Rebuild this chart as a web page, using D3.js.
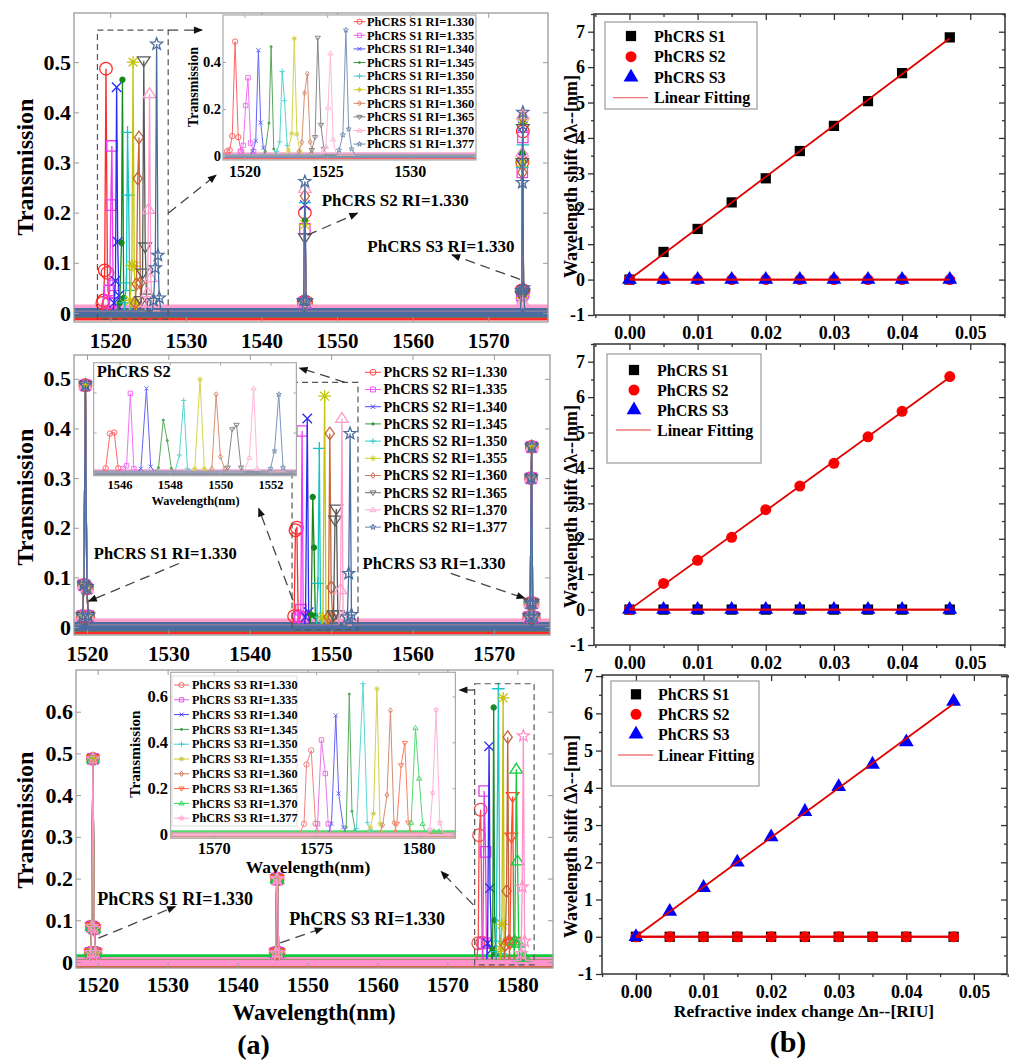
<!DOCTYPE html>
<html>
<head>
<meta charset="utf-8">
<script src="https://cdn.jsdelivr.net/npm/d3@7"></script>
<style>
  body { margin: 0; background: #fff; }
</style>
</head>
<body>
<svg id="chart" width="1024" height="1064"></svg>
<script>
// ---------------- data ----------------
const riLabels = ["1.330", "1.335", "1.340", "1.345", "1.350", "1.355", "1.360", "1.365", "1.370", "1.377"];
const spanEdges = [1500, 1600];   // spectra continue past both ends of every axis
const baseT = 0.004;              // off-resonance transmission
const bandLevels = [-0.006, 0, 0, 0, 0, 0, 0, 0, 0.008, 0.001];

// (a) top : S1 swept, S2 / S3 kept at RI=1.330
const a1S1Peaks = [
  [[1518.8, 0.004], [1518.95, 0.02], [1519.1, 0.025], [1519.26, 0.085], [1519.43, 0.487], [1519.62, 0.08], [1519.8, 0.02], [1519.95, 0.004]],
  [[1519.6, 0.004], [1519.75, 0.02], [1519.92, 0.045], [1520.07, 0.215], [1520.21, 0.333], [1520.37, 0.055], [1520.55, 0.02], [1520.7, 0.004]],
  [[1520.35, 0.004], [1520.5, 0.02], [1520.68, 0.064], [1520.84, 0.45], [1520.98, 0.142], [1521.14, 0.035], [1521.3, 0.004]],
  [[1521.1, 0.004], [1521.25, 0.02], [1521.48, 0.14], [1521.61, 0.465], [1521.77, 0.03], [1521.95, 0.004]],
  [[1521.8, 0.004], [1521.95, 0.02], [1522.13, 0.06], [1522.28, 0.36], [1522.42, 0.235], [1522.58, 0.045], [1522.75, 0.004]],
  [[1522.5, 0.004], [1522.65, 0.025], [1522.86, 0.095], [1523.01, 0.50], [1523.17, 0.093], [1523.35, 0.02], [1523.5, 0.004]],
  [[1523.15, 0.004], [1523.3, 0.02], [1523.47, 0.058], [1523.63, 0.268], [1523.8, 0.35], [1523.97, 0.06], [1524.15, 0.004]],
  [[1523.9, 0.004], [1524.07, 0.025], [1524.27, 0.08], [1524.43, 0.503], [1524.62, 0.132], [1524.8, 0.03], [1524.95, 0.004]],
  [[1524.6, 0.004], [1524.75, 0.02], [1524.92, 0.04], [1525.05, 0.206], [1525.2, 0.437], [1525.36, 0.07], [1525.55, 0.004]],
  [[1525.55, 0.004], [1525.72, 0.025], [1525.95, 0.09], [1526.13, 0.536], [1526.3, 0.115], [1526.48, 0.03], [1526.7, 0.004]]
];
const a1S2Lambda = [1545.42, 1545.58, 1545.74, 1545.9, 1546.06];
const a1S2T = [
  [0.004, 0.022, 0.200, 0.022, 0.004],
  [0.004, 0.020, 0.168, 0.020, 0.004],
  [0.004, 0.020, 0.215, 0.020, 0.004],
  [0.004, 0.022, 0.185, 0.020, 0.004],
  [0.004, 0.020, 0.220, 0.020, 0.004],
  [0.004, 0.020, 0.176, 0.022, 0.004],
  [0.004, 0.020, 0.233, 0.020, 0.004],
  [0.004, 0.020, 0.150, 0.020, 0.004],
  [0.004, 0.020, 0.248, 0.020, 0.004],
  [0.004, 0.025, 0.262, 0.025, 0.004]
];
const a1S3Lambda = [1574.25, 1574.42, 1574.5, 1574.57, 1574.66, 1574.82];
const a1S3T = [
  [0.004, 0.045, 0.30, 0.362, 0.045, 0.004],
  [0.004, 0.035, 0.28, 0.350, 0.040, 0.004],
  [0.004, 0.030, 0.31, 0.372, 0.035, 0.004],
  [0.004, 0.040, 0.32, 0.380, 0.040, 0.004],
  [0.004, 0.045, 0.29, 0.335, 0.045, 0.004],
  [0.004, 0.030, 0.30, 0.385, 0.035, 0.004],
  [0.004, 0.040, 0.28, 0.390, 0.045, 0.004],
  [0.004, 0.035, 0.30, 0.368, 0.040, 0.004],
  [0.004, 0.020, 0.32, 0.395, 0.020, 0.004],
  [0.004, 0.045, 0.26, 0.400, 0.050, 0.004]
];

// (a) middle : S2 swept
const a2S1Fixed = [[1519.3, 0.004], [1519.45, 0.022], [1519.62, 0.085], [1519.8, 0.487], [1519.98, 0.078], [1520.15, 0.022], [1520.3, 0.004]];
const a2S3Fixed = [[1574.2, 0.004], [1574.35, 0.02], [1574.48, 0.048], [1574.58, 0.30], [1574.66, 0.363], [1574.76, 0.048], [1574.9, 0.02], [1575.05, 0.004]];
const a2S2Peaks = [
  [[1545.3, 0.004], [1545.45, 0.022], [1545.62, 0.195], [1545.79, 0.20], [1545.95, 0.022], [1546.1, 0.004]],
  [[1546.0, 0.004], [1546.15, 0.02], [1546.28, 0.035], [1546.43, 0.395], [1546.57, 0.02], [1546.7, 0.004]],
  [[1546.7, 0.004], [1546.85, 0.02], [1547.07, 0.42], [1547.24, 0.03], [1547.4, 0.004]],
  [[1547.4, 0.004], [1547.55, 0.025], [1547.74, 0.262], [1547.9, 0.16], [1548.06, 0.022], [1548.2, 0.004]],
  [[1548.2, 0.004], [1548.38, 0.088], [1548.55, 0.36], [1548.7, 0.02], [1548.85, 0.004]],
  [[1548.85, 0.004], [1548.99, 0.02], [1549.2, 0.465], [1549.37, 0.02], [1549.5, 0.004]],
  [[1549.5, 0.004], [1549.67, 0.02], [1549.84, 0.39], [1550.01, 0.08], [1550.18, 0.02], [1550.3, 0.004]],
  [[1550.15, 0.004], [1550.3, 0.025], [1550.48, 0.216], [1550.65, 0.238], [1550.83, 0.025], [1551.0, 0.004]],
  [[1550.95, 0.004], [1551.16, 0.075], [1551.33, 0.42], [1551.47, 0.02], [1551.6, 0.004]],
  [[1551.9, 0.004], [1552.0, 0.02], [1552.16, 0.108], [1552.33, 0.39], [1552.5, 0.025], [1552.65, 0.004]]
];

// (a) bottom : S3 swept
const a3S1Fixed = [[1518.85, 0.004], [1519.0, 0.022], [1519.15, 0.085], [1519.32, 0.487], [1519.5, 0.08], [1519.68, 0.022], [1519.85, 0.004]];
const a3S2Fixed = [[1545.3, 0.004], [1545.45, 0.022], [1545.6, 0.20], [1545.72, 0.198], [1545.87, 0.022], [1546.0, 0.004]];
const a3S3Peaks = [
  [[1574.2, 0.004], [1574.41, 0.045], [1574.53, 0.304], [1574.76, 0.365], [1574.97, 0.046], [1575.15, 0.004]],
  [[1574.95, 0.004], [1575.07, 0.045], [1575.26, 0.41], [1575.45, 0.264], [1575.59, 0.045], [1575.75, 0.004]],
  [[1575.6, 0.004], [1575.75, 0.045], [1575.96, 0.517], [1576.1, 0.177], [1576.33, 0.03], [1576.45, 0.004]],
  [[1576.35, 0.004], [1576.47, 0.03], [1576.62, 0.61], [1576.75, 0.1], [1576.9, 0.02], [1577.0, 0.004]],
  [[1576.85, 0.004], [1576.97, 0.025], [1577.29, 0.655], [1577.5, 0.05], [1577.65, 0.02], [1577.8, 0.004]],
  [[1577.55, 0.004], [1577.65, 0.03], [1577.8, 0.09], [1577.97, 0.633], [1578.12, 0.045], [1578.25, 0.004]],
  [[1578.1, 0.004], [1578.25, 0.04], [1578.46, 0.17], [1578.63, 0.539], [1578.8, 0.05], [1578.95, 0.004]],
  [[1578.8, 0.004], [1578.94, 0.045], [1579.15, 0.30], [1579.33, 0.397], [1579.5, 0.05], [1579.65, 0.004]],
  [[1579.5, 0.004], [1579.64, 0.05], [1579.85, 0.462], [1580.03, 0.242], [1580.2, 0.045], [1580.35, 0.004], [1580.75, 0.012], [1581.0, 0.012], [1581.2, 0.004]],
  [[1580.45, 0.004], [1580.55, 0.02], [1580.69, 0.18], [1580.86, 0.542], [1581.04, 0.05], [1581.2, 0.004]]
];

// (b) wavelength shift vs refractive index change
const dn = [0, 0.005, 0.01, 0.015, 0.02, 0.025, 0.03, 0.035, 0.04, 0.047];
const shiftS1 = [0, 0.78, 1.43, 2.18, 2.86, 3.63, 4.34, 5.04, 5.83, 6.84];
const shiftS2 = [0, 0.74, 1.39, 2.04, 2.82, 3.49, 4.13, 4.88, 5.60, 6.58];
const shiftS3 = [0, 0.68, 1.32, 2.00, 2.68, 3.36, 4.03, 4.63, 5.23, 6.32];
const noShift = [0, 0, 0, 0, 0, 0, 0, 0, 0, 0];

// ticks
const ticksA12 = [1520, 1530, 1540, 1550, 1560, 1570];
const ticksA3 = [1520, 1530, 1540, 1550, 1560, 1570, 1580];
const ticksT5 = [0, 0.1, 0.2, 0.3, 0.4, 0.5];
const ticksT6 = [0, 0.1, 0.2, 0.3, 0.4, 0.5, 0.6];
const ticksInset1 = [1520, 1525, 1530];
const ticksInset2 = [1546, 1548, 1550, 1552];
const ticksInset3 = [1570, 1575, 1580];
const ticksInsetT1 = [0, 0.2, 0.4];
const ticksInsetT3 = [0, 0.2, 0.4, 0.6];
const ticksDn = [0, 0.01, 0.02, 0.03, 0.04, 0.05];
const ticksDnMinor = [-0.005, 0.005, 0.015, 0.025, 0.035, 0.045, 0.055];
const ticksShift = [-1, 0, 1, 2, 3, 4, 5, 6, 7];
const ticksShiftMinor = [-0.5, 0.5, 1.5, 2.5, 3.5, 4.5, 5.5, 6.5, 7.5];

// ---------------- styles ----------------
const SERIF = "'Liberation Serif','Times New Roman',serif";
const colorsAB = ["#ff2a2a", "#f03cf0", "#2a2af0", "#17871a", "#14c4c4", "#c4c40a", "#c8663a", "#5a5a5a", "#ff9dcb", "#4a6c9e"];
const colorsC = ["#f25050", "#e040e0", "#2a2af0", "#1b8a2a", "#1cc6c6", "#c6be0a", "#c2623e", "#ff4b26", "#12cc3c", "#ff92cc"];
const markerNames = ["circle", "square", "times", "point", "plus", "asterisk", "diamond", "triDown", "triUp", "pentagram"];

// marker shapes, "size" is the half extent in px
const markerTypes = {
  circle: { draw(c, r) { c.moveTo(r, 0); c.arc(0, 0, r, 0, 2 * Math.PI); } },
  square: { draw(c, r) { const s = r * 0.82; c.rect(-s, -s, 2 * s, 2 * s); } },
  times: { draw(c, r) { const s = r * 0.75; c.moveTo(-s, -s); c.lineTo(s, s); c.moveTo(-s, s); c.lineTo(s, -s); } },
  point: { draw(c, r) { const s = r * 0.4; c.moveTo(s, 0); c.arc(0, 0, s, 0, 2 * Math.PI); } },
  plus: { draw(c, r) { c.moveTo(-r, 0); c.lineTo(r, 0); c.moveTo(0, -r); c.lineTo(0, r); } },
  asterisk: { draw(c, r) {
    const s = r * 0.7;
    c.moveTo(-r, 0); c.lineTo(r, 0); c.moveTo(0, -r); c.lineTo(0, r);
    c.moveTo(-s, -s); c.lineTo(s, s); c.moveTo(-s, s); c.lineTo(s, -s);
  } },
  diamond: { draw(c, r) { c.moveTo(0, -r); c.lineTo(r * 0.72, 0); c.lineTo(0, r); c.lineTo(-r * 0.72, 0); c.closePath(); } },
  triDown: { draw(c, r) { c.moveTo(-r, -r * 0.6); c.lineTo(r, -r * 0.6); c.lineTo(0, r * 0.95); c.closePath(); } },
  triUp: { draw(c, r) { c.moveTo(-r, r * 0.6); c.lineTo(r, r * 0.6); c.lineTo(0, -r * 0.95); c.closePath(); } },
  pentagram: { draw(c, r) {
    for (let k = 0; k < 10; k++) {
      const rr = k % 2 ? r * 0.42 : r;
      const a = -Math.PI / 2 + k * Math.PI / 5;
      if (k === 0) c.moveTo(rr * Math.cos(a), rr * Math.sin(a)); else c.lineTo(rr * Math.cos(a), rr * Math.sin(a));
    }
    c.closePath();
  } }
};

const svg = d3.select("#chart");
const defs = svg.append("defs");
defs.append("marker").attr("id", "arrowHead")
  .attr("viewBox", "0 0 10 10").attr("refX", 9).attr("refY", 5)
  .attr("markerWidth", 10).attr("markerHeight", 9).attr("markerUnits", "userSpaceOnUse")
  .attr("orient", "auto")
  .append("path").attr("d", "M0,1 L10,5 L0,9 Z").attr("fill", "#111");

let clipCount = 0;

function boldText(sel, size) {
  return sel.attr("font-family", SERIF).attr("font-weight", "bold").attr("font-size", size).attr("fill", "#000");
}

function marker(g, name, px, py, r, color, sw) {
  g.append("path")
    .attr("transform", `translate(${px},${py})`)
    .attr("d", d3.symbol().type(markerTypes[name]).size(r)())
    .attr("fill", name === "point" ? color : "none")
    .attr("stroke", color).attr("stroke-width", sw);
}

// spectra panel (main plot or inset)
function spectrumPanel(o) {
  const x = d3.scaleLinear().domain(o.xDomain).range([o.left, o.right]);
  const y = d3.scaleLinear().domain(o.yDomain).range([o.bottom, o.top]);
  const g = svg.append("g");
  const id = "clip" + (clipCount++);
  defs.append("clipPath").attr("id", id).append("rect")
    .attr("x", o.left).attr("y", o.top).attr("width", o.right - o.left).attr("height", o.bottom - o.top);
  g.append("rect").attr("x", o.left).attr("y", o.top).attr("width", o.right - o.left).attr("height", o.bottom - o.top)
    .attr("fill", "#fff");

  const plot = g.append("g").attr("clip-path", `url(#${id})`).attr("opacity", o.opacity);
  o.series.forEach((pts, i) => {
    plot.append("line")
      .attr("x1", x(o.xDomain[0])).attr("x2", x(o.xDomain[1]))
      .attr("y1", y(bandLevels[i])).attr("y2", y(bandLevels[i]))
      .attr("stroke", o.colors[i]).attr("stroke-width", o.bandWidth);
  });
  const line = d3.line().x(d => x(d[0])).y(d => y(d[1]));
  o.series.forEach((pts, i) => {
    plot.append("path").datum(pts).attr("d", line)
      .attr("fill", "none").attr("stroke", o.colors[i]).attr("stroke-width", o.lineWidth);
    pts.filter(d => d[1] > 0.008).forEach(d => marker(plot, markerNames[i], x(d[0]), y(d[1]), o.markerR, o.colors[i], o.markerStroke));
  });

  // frame and inward ticks on all sides
  const ax = g.append("g");
  const axisPart = (axis, tr, labels, font) => {
    const s = ax.append("g").attr("transform", tr).call(axis);
    s.select(".domain").remove();
    s.selectAll(".tick line").attr("stroke", o.frameColor).attr("stroke-width", 1);
    if (labels) boldText(s.selectAll(".tick text"), font);
    else s.selectAll(".tick text").remove();
  };
  axisPart(d3.axisBottom(x).tickValues(o.xTicks).tickSize(-o.tick).tickPadding(o.xPad).tickFormat(d3.format("d")),
    `translate(0,${o.bottom})`, o.xLabels, o.xFont);
  axisPart(d3.axisTop(x).tickValues(o.xTicks).tickSize(-o.tick), `translate(0,${o.top})`, false);
  axisPart(d3.axisLeft(y).tickValues(o.yTicks).tickSize(-o.tick).tickPadding(o.yPad).tickFormat(d3.format("~g")),
    `translate(${o.left},0)`, o.yLabels, o.yFont);
  axisPart(d3.axisRight(y).tickValues(o.yTicks).tickSize(-o.tick), `translate(${o.right},0)`, false);
  ax.append("rect").attr("x", o.left).attr("y", o.top).attr("width", o.right - o.left).attr("height", o.bottom - o.top)
    .attr("fill", "none").attr("stroke", o.frameColor).attr("stroke-width", o.frameWidth);
  return { x, y, g };
}

function annotate(p, a) {
  const g = svg.append("g");
  g.append("rect")
    .attr("x", p.x(a.box[0][0])).attr("y", p.y(a.box[1][1]))
    .attr("width", p.x(a.box[0][1]) - p.x(a.box[0][0])).attr("height", p.y(a.box[1][0]) - p.y(a.box[1][1]))
    .attr("fill", "none").attr("stroke", "#555").attr("stroke-width", 1.2).attr("stroke-dasharray", "6,4");
  a.arrows.forEach(ar => {
    g.append("line")
      .attr("x1", p.x(ar[0][0])).attr("y1", p.y(ar[0][1]))
      .attr("x2", p.x(ar[1][0])).attr("y2", p.y(ar[1][1]))
      .attr("stroke", "#444").attr("stroke-width", 1.3).attr("stroke-dasharray", "10,6")
      .attr("marker-end", "url(#arrowHead)");
  });
  a.texts.forEach(t => {
    boldText(g.append("text"), a.font).attr("x", p.x(t[1])).attr("y", p.y(t[2])).text(t[0]);
  });
}

function seriesLegend(o) {
  const g = svg.append("g");
  if (o.box) {
    g.append("rect").attr("x", o.box[0]).attr("y", o.box[1]).attr("width", o.box[2]).attr("height", o.box[3])
      .attr("fill", "#fff").attr("stroke", "#ddd").attr("stroke-width", 1);
  }
  riLabels.forEach((ri, i) => {
    const cy = o.y0 + i * o.dy;
    const lg = g.append("g").attr("opacity", o.opacity);
    lg.append("line").attr("x1", o.x0).attr("x2", o.x1).attr("y1", cy).attr("y2", cy)
      .attr("stroke", o.colors[i]).attr("stroke-width", 1);
    marker(lg, markerNames[i], (o.x0 + o.x1) / 2, cy, o.markerR, o.colors[i], 1);
    boldText(g.append("text"), o.font).attr("x", o.textX).attr("y", cy + o.font * 0.34)
      .text(`${o.sensor} RI=${ri}`);
  });
}

function rotatedLabel(text, x, y, size) {
  boldText(svg.append("text"), size).attr("text-anchor", "middle")
    .attr("transform", `translate(${x},${y}) rotate(-90)`).text(text);
}

function centeredLabel(text, x, y, size) {
  boldText(svg.append("text"), size).attr("text-anchor", "middle").attr("x", x).attr("y", y).text(text);
}

// ---------------- (a) top ----------------
const seriesA1 = riLabels.map((ri, i) => [[spanEdges[0], baseT]]
  .concat(a1S1Peaks[i])
  .concat(a1S2Lambda.map((l, k) => [l, a1S2T[i][k]]))
  .concat(a1S3Lambda.map((l, k) => [l, a1S3T[i][k]]))
  .concat([[spanEdges[1], baseT]]));

const mainStyle = { tick: 5, frameColor: "#9a9a9a", frameWidth: 1.3, lineWidth: 1.3, markerR: 6.3, markerStroke: 1.3,
  bandWidth: 9, opacity: 1, xFont: 21, yFont: 22, xPad: 11, yPad: 3, xLabels: true, yLabels: true };
const insetStyle = { tick: 3, frameColor: "#aaaaaa", frameWidth: 1.2, lineWidth: 1, markerR: 2.7, markerStroke: 1,
  bandWidth: 4, opacity: 0.72 };

const pA1 = spectrumPanel(Object.assign({}, mainStyle, {
  left: 74, right: 548, top: 13, bottom: 322,
  xDomain: [1515.2, 1577.9], yDomain: [-0.018, 0.598],
  xTicks: ticksA12, yTicks: ticksT5, series: seriesA1, colors: colorsAB
}));
annotate(pA1, {
  box: [[1518.3, 1527.66], [-0.0126, 0.564]],
  arrows: [[[1527.66, 0.564], [1532.14, 0.564]], [[1527.66, 0.199], [1534.0, 0.275]],
           [[1546.07, 0.155], [1552.7, 0.199]], [[1574.2, 0.067], [1565.2, 0.116]]],
  texts: [["PhCRS S2 RI=1.330", 1547.97, 0.213], ["PhCRS S3 RI=1.330", 1554.0, 0.122]],
  font: 17
});
spectrumPanel(Object.assign({}, insetStyle, {
  left: 223, right: 476, top: 15, bottom: 160,
  xDomain: [1518.7, 1534.0], yDomain: [-0.017, 0.6],
  xTicks: ticksInset1, yTicks: ticksInsetT1, series: seriesA1, colors: colorsAB,
  xLabels: true, yLabels: true, xFont: 16, yFont: 14.5, xPad: 5.5, yPad: 2
}));
rotatedLabel("Transmission", 197.5, 87, 14);
seriesLegend({ sensor: "PhCRS S1", colors: colorsAB, x0: 353.5, x1: 365.5, textX: 367, y0: 21.7, dy: 13.6,
  font: 12.4, markerR: 2.6, opacity: 0.8 });
rotatedLabel("Transmission", 33, 167, 24);

// ---------------- (a) middle ----------------
const seriesA2 = riLabels.map((ri, i) => [[spanEdges[0], baseT]]
  .concat(a2S1Fixed).concat(a2S2Peaks[i]).concat(a2S3Fixed)
  .concat([[spanEdges[1], baseT]]));

const pA2 = spectrumPanel(Object.assign({}, mainStyle, {
  left: 74, right: 550, top: 355, bottom: 635,
  xDomain: [1518.4, 1576.9], yDomain: [-0.016, 0.548],
  xTicks: ticksA12, yTicks: ticksT5, series: seriesA2, colors: colorsAB
}));
annotate(pA2, {
  box: [[1545.2, 1553.3], [-0.005, 0.493]],
  arrows: [[[1551.7, 0.493], [1546.1, 0.522]], [[1545.3, 0.054], [1541.1, 0.239]],
           [[1531.3, 0.128], [1520.2, 0.052]], [[1564.7, 0.108], [1573.8, 0.058]]],
  texts: [["PhCRS S1 RI=1.330", 1520.84, 0.137], ["PhCRS S3 RI=1.330", 1553.87, 0.116]],
  font: 16.5
});
const inA2 = spectrumPanel(Object.assign({}, insetStyle, {
  left: 93.6, right: 296.4, top: 362.7, bottom: 475.7,
  xDomain: [1544.97, 1553.03], yDomain: [-0.015, 0.548],
  xTicks: ticksInset2, yTicks: ticksInsetT1, series: seriesA2, colors: colorsAB,
  xLabels: true, yLabels: false, xFont: 12.5, yFont: 12, xPad: 4.5, yPad: 2
}));
boldText(svg.append("text"), 16.5).attr("x", inA2.x(1545.1)).attr("y", inA2.y(0.477)).text("PhCRS S2");
centeredLabel("Wavelength(nm)", 195.5, 504.5, 12.4);
seriesLegend({ sensor: "PhCRS S2", colors: colorsAB, x0: 365, x1: 381, textX: 383.5, y0: 372.3, dy: 17.2,
  font: 14.3, markerR: 3, opacity: 0.85 });
rotatedLabel("Transmission", 33, 497, 24);

// ---------------- (a) bottom ----------------
const seriesA3 = riLabels.map((ri, i) => [[spanEdges[0], baseT]]
  .concat(a3S1Fixed).concat(a3S2Fixed).concat(a3S3Peaks[i])
  .concat([[spanEdges[1], baseT]]));

const pA3 = spectrumPanel(Object.assign({}, mainStyle, {
  left: 76, right: 553, top: 670, bottom: 968,
  xDomain: [1516.9, 1585.1], yDomain: [-0.0144, 0.70],
  xTicks: ticksA3, yTicks: ticksT6, series: seriesA3, colors: colorsC, xPad: 9
}));
annotate(pA3, {
  box: [[1573.9, 1582.4], [-0.007, 0.667]],
  arrows: [[[1573.9, 0.652], [1571.7, 0.652]], [[1573.7, 0.137], [1569.1, 0.217]],
           [[1520.1, 0.057], [1531.1, 0.133]], [[1546.1, 0.046], [1552.2, 0.081]]],
  texts: [["PhCRS S1 RI=1.330", 1519.94, 0.137], ["PhCRS S3 RI=1.330", 1547.4, 0.089]],
  font: 18
});
spectrumPanel(Object.assign({}, insetStyle, {
  left: 170.7, right: 455.4, top: 672.3, bottom: 838.3,
  xDomain: [1567.9, 1581.8], yDomain: [-0.018, 0.705],
  xTicks: ticksInset3, yTicks: ticksInsetT3, series: seriesA3, colors: colorsC,
  xLabels: true, yLabels: true, xFont: 16.5, yFont: 16.5, xPad: 3.5, yPad: 2.7
}));
rotatedLabel("Transmission", 139.5, 754, 15.3);
centeredLabel("Wavelength(nm)", 308, 873, 17.5);
seriesLegend({ sensor: "PhCRS S3", colors: colorsC, x0: 174, x1: 189, textX: 192, y0: 685, dy: 14.8,
  font: 12.2, markerR: 2.6, opacity: 0.85, box: [172, 676, 125, 150] });
rotatedLabel("Transmission", 33, 820, 24);
centeredLabel("Wavelength(nm)", 314, 1020, 23);
centeredLabel("(a)", 253.6, 1054, 28);

// ---------------- (b) ----------------
function linearFit(xs, ys) {
  const mx = d3.mean(xs), my = d3.mean(ys);
  const sxx = d3.sum(xs, v => (v - mx) * (v - mx));
  const slope = sxx ? d3.sum(xs, (v, i) => (v - mx) * (ys[i] - my)) / sxx : 0;
  return { slope, intercept: my - slope * mx };
}

function shiftPanel(o) {
  const x = d3.scaleLinear().domain(o.xDomain).range([o.left, o.right]);
  const y = d3.scaleLinear().domain(o.yDomain).range([o.bottom, o.top]);
  const g = svg.append("g");
  const part = (axis, tr, labels) => {
    const s = g.append("g").attr("transform", tr).call(axis);
    s.select(".domain").remove();
    s.selectAll(".tick line").attr("stroke", "#333").attr("stroke-width", 1.3);
    if (labels) boldText(s.selectAll(".tick text"), 18);
    else s.selectAll(".tick text").remove();
  };
  part(d3.axisBottom(x).tickValues(ticksDn).tickSize(6).tickPadding(5.5).tickFormat(d3.format(".2f")), `translate(0,${o.bottom})`, true);
  part(d3.axisBottom(x).tickValues(ticksDnMinor).tickSize(3), `translate(0,${o.bottom})`, false);
  part(d3.axisTop(x).tickValues(ticksDn).tickSize(-6), `translate(0,${o.top})`, false);
  part(d3.axisTop(x).tickValues(ticksDnMinor).tickSize(-3), `translate(0,${o.top})`, false);
  part(d3.axisLeft(y).tickValues(ticksShift).tickSize(6).tickPadding(3).tickFormat(d => String(d)), `translate(${o.left},0)`, true);
  part(d3.axisLeft(y).tickValues(ticksShiftMinor.filter(v => v <= o.yDomain[1])).tickSize(3), `translate(${o.left},0)`, false);
  part(d3.axisRight(y).tickValues(ticksShift).tickSize(-6), `translate(${o.right},0)`, false);
  part(d3.axisRight(y).tickValues(ticksShiftMinor.filter(v => v <= o.yDomain[1])).tickSize(-3), `translate(${o.right},0)`, false);
  g.append("rect").attr("x", o.left).attr("y", o.top).attr("width", o.right - o.left).attr("height", o.bottom - o.top)
    .attr("fill", "none").attr("stroke", "#333").attr("stroke-width", 1.5);

  const sq = d3.symbol().type(d3.symbolSquare).size(105);
  const ci = d3.symbol().type(d3.symbolCircle).size(95);
  const tr = d3.symbol().type(d3.symbolTriangle).size(95);
  const sets = [
    { ys: o.s1, sym: sq, color: "#000" },
    { ys: o.s2, sym: ci, color: "#ff0000" },
    { ys: o.s3, sym: tr, color: "#0000ff" }
  ];
  sets.forEach(s => {
    g.selectAll(null).data(dn).join("path")
      .attr("transform", (d, i) => `translate(${x(d)},${y(s.ys[i])})`)
      .attr("d", s.sym).attr("fill", s.color);
  });
  sets.forEach(s => {
    const f = linearFit(dn, s.ys);
    const ends = [dn[0], dn[dn.length - 1]];
    g.append("line")
      .attr("x1", x(ends[0])).attr("y1", y(f.intercept + f.slope * ends[0]))
      .attr("x2", x(ends[1])).attr("y2", y(f.intercept + f.slope * ends[1]))
      .attr("stroke", "#e00000").attr("stroke-width", 1.8);
  });

  // legend
  const L = o.legend;
  g.append("rect").attr("x", L.box[0]).attr("y", L.box[1]).attr("width", L.box[2]).attr("height", L.box[3])
    .attr("fill", "#fff").attr("stroke", "#999").attr("stroke-width", 1.2);
  const names = ["PhCRS S1", "PhCRS S2", "PhCRS S3", "Linear Fitting"];
  names.forEach((n, i) => {
    const cy = L.rows[i];
    if (i < 3) {
      g.append("path").attr("transform", `translate(${L.markerX},${cy})`).attr("d", sets[i].sym).attr("fill", sets[i].color);
    } else {
      g.append("line").attr("x1", L.markerX - 18).attr("x2", L.markerX + 17).attr("y1", cy).attr("y2", cy)
        .attr("stroke", "#f07878").attr("stroke-width", 1.3);
    }
    boldText(g.append("text"), 16).attr("x", L.textX).attr("y", cy + 5.5).text(n);
  });
  rotatedLabel("Wavelength shift \u0394\u03bb--[nm]", 577, (o.top + o.bottom) / 2 + 12, 18);
}

shiftPanel({ left: 594, right: 1005, top: 14, bottom: 315, xDomain: [-0.0052, 0.0551], yDomain: [-1, 7.5],
  s1: shiftS1, s2: noShift, s3: noShift,
  legend: { box: [605, 22, 152, 87], rows: [36, 56.7, 77.3, 97.7], markerX: 631, textX: 654 } });
shiftPanel({ left: 594, right: 1005, top: 344, bottom: 645, xDomain: [-0.0052, 0.0551], yDomain: [-1, 7.5],
  s1: noShift, s2: shiftS2, s3: noShift,
  legend: { box: [607, 354, 154, 109], rows: [370, 390, 410, 430], markerX: 634, textX: 657 } });
shiftPanel({ left: 602, right: 1007, top: 675, bottom: 974, xDomain: [-0.00502, 0.0549], yDomain: [-1, 7.03],
  s1: noShift, s2: noShift, s3: shiftS3,
  legend: { box: [611, 681, 148, 105], rows: [694.3, 714.3, 734.3, 755], markerX: 636, textX: 658 } });

centeredLabel("Refractive index change \u0394n--[RIU]", 804, 1017, 17.5);
centeredLabel("(b)", 788, 1052, 30);
</script>
</body>
</html>
